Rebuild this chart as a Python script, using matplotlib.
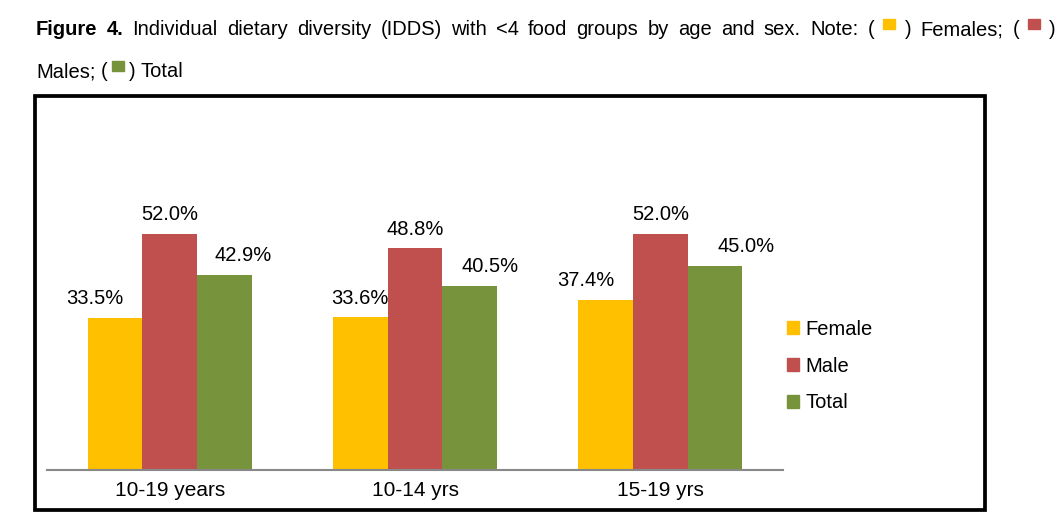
import matplotlib
matplotlib.use('Agg')
import matplotlib.pyplot as plt
from matplotlib.patches import Rectangle, Patch

# data
categories = ['10-19 years', '10-14 yrs', '15-19 yrs']
series_names = ['Female', 'Male', 'Total']
female = [33.5, 33.6, 37.4]
male = [52.0, 48.8, 52.0]
total = [42.9, 40.5, 45.0]

colors = ['#FFC000', '#C0504D', '#77933C']
# horizontal shift of the value labels (points), one row per series
label_dx = [[-14.4, 0, -14.4], [0, 0, 0], [13.7, 14.4, 22.3]]

W, H = 1059, 525
TITLE_FONT = ['Liberation Sans', 'DejaVu Sans']
CHART_FONT = ['Liberation Sans', 'DejaVu Sans']
TITLE_SIZE = 14.5

fig = plt.figure(figsize=(W / 100, H / 100), dpi=100)
renderer = fig.canvas.get_renderer()


def fx(x):
    return x / W


def fy(y):
    return 1 - y / H


def measure(s, bold=False):
    t = fig.text(0, 0, s, fontsize=TITLE_SIZE, family=TITLE_FONT,
                 weight='bold' if bold else 'normal')
    w = t.get_window_extent(renderer).width
    t.remove()
    return w


def place_line(tokens, x0, baseline, width=None, gap=6):
    # tokens: ('t', text, bold) or ('b', color)
    widths = []
    for tok in tokens:
        if tok[0] == 't':
            widths.append(measure(tok[1], tok[2]))
        else:
            widths.append(12)
    if width is not None:
        gap = (width - sum(widths)) / (len(tokens) - 1)
    x = x0
    for tok, w in zip(tokens, widths):
        if tok[0] == 't':
            fig.text(fx(x), fy(baseline), tok[1], fontsize=TITLE_SIZE,
                     family=TITLE_FONT, weight='bold' if tok[2] else 'normal',
                     ha='left', va='baseline')
        else:
            fig.patches.append(Rectangle((fx(x), fy(baseline - 6)), fx(12), 10 / H,
                                         transform=fig.transFigure,
                                         color=tok[1]))
        x += w + gap


line1 = [('t', 'Figure', True), ('t', '4.', True)]
line1 += [('t', w, False) for w in
          'Individual dietary diversity (IDDS) with <4 food groups by age and sex. Note:'.split()]
line1 += [('t', '(', False), ('b', colors[0]), ('t', ')', False), ('t', 'Females;', False),
          ('t', '(', False), ('b', colors[1]), ('t', ')', False)]
place_line(line1, 36, 35, width=1020)

line2 = [('t', 'Males;', False), ('t', '(', False), ('b', colors[2]),
         ('t', ')', False), ('t', 'Total', False)]
place_line(line2, 36, 77, gap=5)

# frame around the chart
fig.patches.append(Rectangle((fx(35), fy(510)), fx(984.5 - 35), (510 - 96) / H,
                             transform=fig.transFigure, fill=False,
                             lw=2.7, ec='black'))

ax = fig.add_axes([fx(47), fy(470), fx(783 - 47), (470 - 120) / H])
bw = 0.2226
values = [female, male, total]
for i, (name, vals, c) in enumerate(zip(series_names, values, colors)):
    xs = [k + (i - 1) * bw for k in range(len(categories))]
    ax.bar(xs, vals, width=bw, color=c, label=name)
    for k, (x, v) in enumerate(zip(xs, vals)):
        ax.annotate(f'{v:.1f}%', (x, v), xytext=(label_dx[i][k], 10),
                    textcoords='offset points', ha='center', va='baseline',
                    fontsize=14.5, family=CHART_FONT)

ax.set_xlim(-0.5, 2.5)
ax.set_ylim(0, 350 / 4.54)
ax.set_xticks(range(len(categories)))
ax.set_xticklabels(categories, fontsize=15, family=CHART_FONT)
ax.tick_params(axis='x', length=0, pad=8)
ax.set_yticks([])
for s in ['left', 'right', 'top']:
    ax.spines[s].set_visible(False)
ax.spines['bottom'].set_color('#888888')
ax.spines['bottom'].set_linewidth(1.5)

handles = [Patch(color=c, label=n) for n, c in zip(series_names, colors)]
leg = fig.legend(handles=handles, loc='center left', bbox_to_anchor=(fx(787), fy(366)),
                 frameon=False, handlelength=0.6, handleheight=0.6,
                 handletextpad=0.3, labelspacing=0.88, borderpad=0, borderaxespad=0,
                 prop={'family': CHART_FONT, 'size': 14.5})

fig.savefig('out.png', dpi=100)
